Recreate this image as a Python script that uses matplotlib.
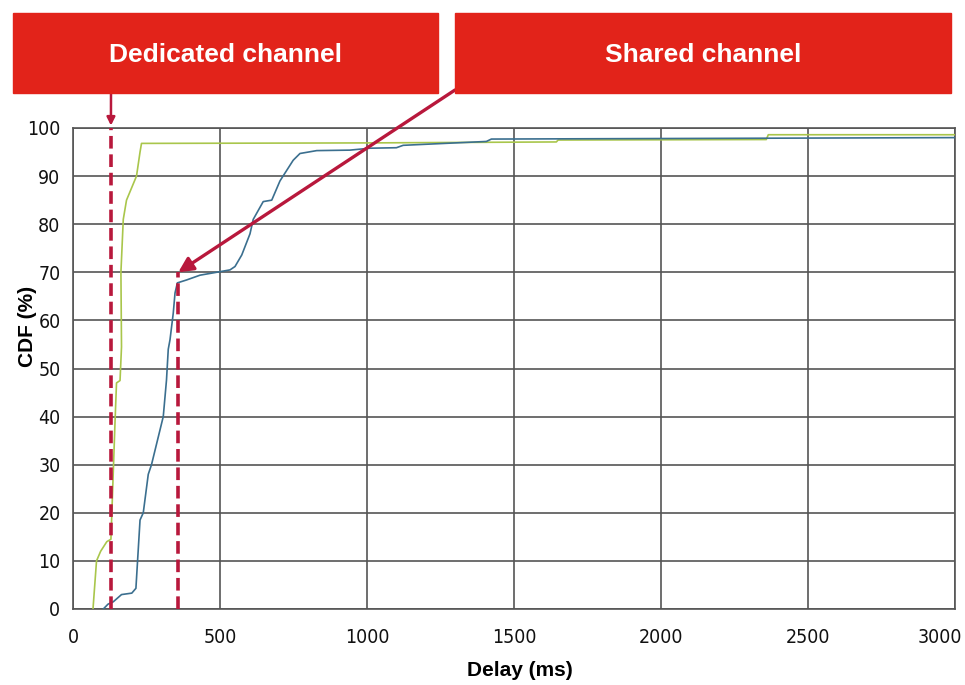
import matplotlib.pyplot as plt
import matplotlib.transforms as mtransforms
import numpy as np

# --- data ---
dedicated_delay = [68, 80, 94, 115, 129, 143, 148, 160, 165, 163, 171, 182, 216, 228, 233,
                   1000, 1644, 1650, 2358, 2365, 3000]
dedicated_cdf = [0, 10, 12, 14, 14.5, 39, 47, 47.5, 54.5, 70, 81, 85, 90, 95, 96.8,
                 96.9, 97.1, 97.5, 97.6, 98.6, 98.6]

shared_delay = [103, 119, 137, 165, 200, 214, 228, 239, 256, 267, 307, 318, 324, 330, 341,
                347, 355, 386, 432, 488, 534, 551, 574, 602, 613, 647, 676, 704, 749, 772,
                829, 942, 1010, 1100, 1123, 1406, 1423, 3000]
shared_cdf = [0, 1, 1.5, 3, 3.3, 4.3, 18.5, 20, 28, 30, 40, 47.6, 54, 56, 61.5,
              65.7, 67.8, 68.4, 69.4, 70, 70.5, 71.2, 73.6, 78, 81, 84.7, 85, 89, 93.3, 94.7,
              95.3, 95.4, 95.8, 95.9, 96.4, 97.2, 97.7, 98.0]

dedicated_mark = 129   # ms
shared_mark = (358, 70)  # ms, %

box_labels = ['Dedicated channel', 'Shared channel']

xticks = [0, 500, 1000, 1500, 2000, 2500, 3000]
yticks = list(range(0, 101, 10))

RED_BOX = '#E2231A'
MARK_RED = '#B8183C'
GREEN = '#A9C64B'
BLUE = '#3B6F8F'
GRID = '#555555'

W, H = 965, 685
fig = plt.figure(figsize=(W / 100, H / 100), dpi=100, facecolor='white')
ax = fig.add_axes([73 / W, 1 - 609 / H, (955 - 73) / W, (609 - 128) / H])

ax.plot(dedicated_delay, dedicated_cdf, color=GREEN, lw=1.2, zorder=3)
ax.plot(shared_delay, shared_cdf, color=BLUE, lw=1.2, zorder=3)

ax.set_xlim(0, 3000)
ax.set_ylim(0, 100)
ax.set_xticks(xticks)
ax.set_yticks(yticks)
ax.grid(True, color=GRID, lw=1.2)
for s in ax.spines.values():
    s.set_color(GRID)
    s.set_linewidth(1.2)
ax.tick_params(length=0, colors='#111111')
ax.tick_params(axis='x', pad=14)
ax.tick_params(axis='y', pad=9)
for lab in ax.get_xticklabels() + ax.get_yticklabels():
    lab.set_fontsize(14)
    lab.set_fontstretch('condensed')
    lab.set_family('DejaVu Sans')
# last x label sits a little inside the right edge, as in the original
last = ax.get_xticklabels()[-1]
last.set_transform(last.get_transform() +
                   mtransforms.ScaledTranslation(-15 / 100, 0, fig.dpi_scale_trans))

ax.set_xlabel('Delay (ms)', fontsize=15, fontweight='bold', family='Liberation Sans')
ax.set_ylabel('CDF (%)', fontsize=15, fontweight='bold', family='Liberation Sans')
ax.xaxis.set_label_coords(0.507, -0.108)
ax.yaxis.set_label_coords(-0.041, 0.588)

# red dashed markers
ax.plot([dedicated_mark, dedicated_mark], [0, 100], color=MARK_RED, lw=2.6,
        dashes=(3.5, 1.6), zorder=4, clip_on=False)
ax.plot([shared_mark[0], shared_mark[0]], [0, shared_mark[1]], color=MARK_RED, lw=2.6,
        dashes=(3.5, 1.6), zorder=4)

# boxes on top
for (x0, x1), label in zip([(13, 438), (455, 951)], box_labels):
    fig.patches.append(plt.Rectangle((x0 / W, 1 - 93 / H), (x1 - x0) / W, 80 / H,
                                     transform=fig.transFigure, color=RED_BOX, zorder=5))
    fig.text((x0 + x1) / 2 / W, 1 - 55 / H, label, ha='center', va='center', color='white',
             fontsize=19, fontweight='bold', family='Liberation Sans', zorder=6)

# arrows
ax.annotate('', xy=(dedicated_mark, 100.5), xycoords='data',
            xytext=(111 / W, 1 - 93 / H), textcoords='figure fraction',
            arrowprops=dict(arrowstyle='-|>', color=MARK_RED, lw=1.8, mutation_scale=12,
                            shrinkA=0, shrinkB=0), annotation_clip=False)
ax.annotate('', xy=shared_mark, xycoords='data',
            xytext=(455 / W, 1 - 90 / H), textcoords='figure fraction',
            arrowprops=dict(arrowstyle='-|>', color=MARK_RED, lw=2.4, mutation_scale=22,
                            shrinkA=0, shrinkB=0), annotation_clip=False, zorder=6)

fig.savefig('out.png', dpi=100, facecolor='white')
